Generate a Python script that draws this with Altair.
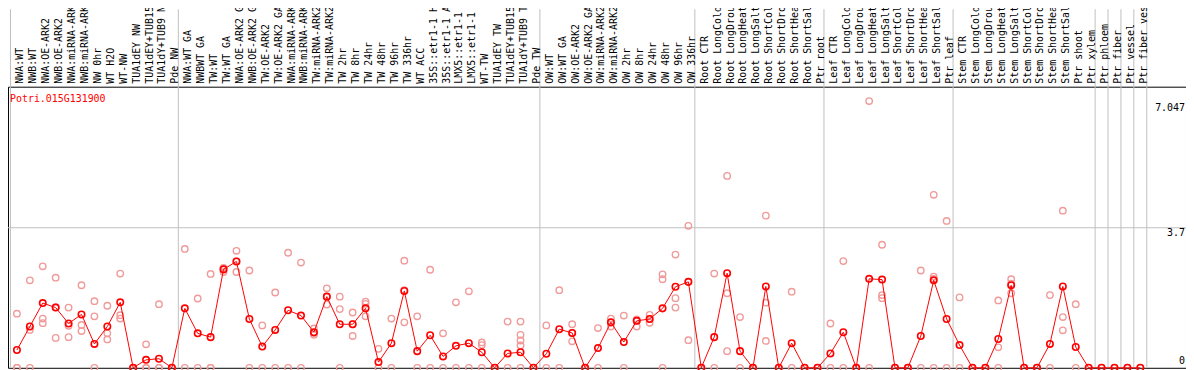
import altair as alt
import pandas as pd

gene = "Potri.015G131900"

categories = [
    "NWA:WT", "NWB:WT", "NWA:OE-ARK2", "NWB:OE-ARK2", "NWA:miRNA-ARK2", "NWB:miRNA-ARK2",
    "NW 0hr", "WT H2O", "WT-NW", "TUA1dEY NW", "TUA1dEY+TUB15", "TUA1dY+TUB9 NW", "Pde NW",
    "NWA:WT GA", "NWBWT GA", "TW:WT", "TW:WT GA", "NWA:OE-ARK2 GA", "NWB:OE-ARK2 GA",
    "TW:OE-ARK2", "TW:OE-ARK2 GA", "NWA:miRNA-ARK2", "NWB:miRNA-ARK2", "TW:miRNA-ARK2",
    "TW:miRNA-ARK2", "TW 2hr", "TW 8hr", "TW 24hr", "TW 48hr", "TW 96hr", "TW 336hr",
    "WT ACC", "35S::etr1-1 H2O", "35S::etr1-1 ACC", "LMX5::etr1-1 H2O", "LMX5::etr1-1 ACC",
    "WT-TW", "TUA1dEY TW", "TUA1dEY+TUB15", "TUA1dY+TUB9 TW", "Pde TW",
    "OW:WT", "OW:WT GA", "OW:OE-ARK2", "OW:OE-ARK2 GA", "OW:miRNA-ARK2", "OW:miRNA-ARK2",
    "OW 2hr", "OW 8hr", "OW 24hr", "OW 48hr", "OW 96hr", "OW 336hr",
    "Root CTR", "Root LongCold", "Root LongDrought", "Root LongHeat", "Root LongSalt",
    "Root ShortCold", "Root ShortDrought", "Root ShortHeat", "Root ShortSalt", "Ptr root",
    "Leaf CTR", "Leaf LongCold", "Leaf LongDrought", "Leaf LongHeat", "Leaf LongSalt",
    "Leaf ShortCold", "Leaf ShortDrought", "Leaf ShortHeat", "Leaf ShortSalt", "Ptr leaf",
    "Stem CTR", "Stem LongCold", "Stem LongDrought", "Stem LongHeat", "Stem LongSalt",
    "Stem ShortCold", "Stem ShortDrought", "Stem ShortHeat", "Stem ShortSalt", "Ptr shoot",
    "Ptr xylem", "Ptr phloem", "Ptr fiber", "Ptr vessel", "Ptr fiber vessel",
]

means = [
    0.47, 1.09, 1.71, 1.59, 1.17, 1.41, 0.63, 1.09, 1.73, 0, 0.21, 0.24, 0,
    1.57, 0.91, 0.81, 2.60, 2.81, 1.29, 0.56, 1.00, 1.52, 1.38, 0.94, 1.88, 1.15, 1.15,
    1.57, 0.15, 0.65, 2.03, 0.44, 0.86, 0.30, 0.58, 0.65, 0.41, 0, 0.38, 0.41, 0,
    0.37, 1.02, 0.92, 0, 0.52, 1.20, 0.68, 1.24, 1.29, 1.57, 2.14, 2.27,
    0, 0.81, 2.50, 0.44, 0, 2.15, 0, 0.65, 0, 0,
    0.38, 0.94, 0, 2.35, 2.33, 0, 0, 0.84, 2.31, 1.29,
    0.60, 0, 0, 0.76, 2.18, 0, 0, 0.63, 2.15, 0.55, 0, 0, 0, 0, 0,
]

replicates = [
    [1.43, 0, 0], [2.31, 1.00, 0], [2.68, 1.30, 1.18], [2.38, 1.60, 0.79],
    [1.59, 1.11, 0.81], [2.18, 1.13, 0.97], [1.76, 1.36, 0], [1.64, 0.91, 0.75],
    [2.49, 1.39, 1.30], [0, 0, 0], [0.62, 0, 0], [1.68, 0, 0], [0, 0],
    [3.14, 0], [1.83, 0], [2.48, 0, 0], [2.64, 2.53, 2.62], [3.09, 2.53, 2.81],
    [2.57, 0], [1.12, 0], [1.99, 0], [3.04, 0], [2.78, 0], [1.04, 0.87, 0.92],
    [2.10, 1.67, 1.88], [1.88, 1.55, 0], [1.46, 0.84, 1.15], [1.75, 1.69, 1.36],
    [0.50, 0], [1.30, 0], [2.83, 1.20, 2.05], [1.36, 0], [2.59, 0], [0.91, 0],
    [1.73, 0], [2.02, 0], [0.67, 0.60, 0], [0, 0], [1.22, 0],
    [1.22, 0.87, 0.72, 0.59, 0], [0, 0],
    [1.12, 0], [2.05, 0], [1.15, 0.70, 0.92], [0, 0], [1.05, 0], [1.30, 1.09, 1.20],
    [1.38, 0], [1.28, 1.09, 1.24], [1.40, 1.19, 1.29], [2.47, 2.34, 0],
    [2.99, 1.84, 1.59], [3.75, 0.73, 2.27],
    [0, 0], [2.49, 0], [5.07, 1.97, 0.44], [1.34, 0], [0, 0], [4.02, 1.72, 0.71],
    [0, 0], [2.01, 0], [0, 0], [0, 0],
    [1.17, 0], [2.82, 0], [0, 0], [7.047, 0], [3.25, 1.92, 1.84], [0, 0], [0, 0],
    [2.57, 0], [4.57, 2.41, 2.35, 0], [3.88, 0],
    [1.86, 0], [0, 0], [0, 0], [1.78, 0.54, 0], [2.34, 1.97, 2.22], [0, 0], [0, 0],
    [1.92, 0], [4.15, 1.34, 0.99], [1.68, 0], [0], [0], [0], [0], [0],
]

group_bounds = [0, 13, 41, 53, 63, 73, 84, 85, 86, 87, 88]
y_ticks = [0, 3.7, 7.047]

# ---- layout ----
W, H = 1186, 283
COL = 13.0
x_scale = alt.Scale(domain=[-2.5 / COL, (W - 2.5) / COL], nice=False, zero=False)
y_scale = alt.Scale(domain=[0, H / 38.108], nice=False, zero=False)
FONT = "DejaVu Sans Mono"

mean_df = pd.DataFrame({
    "x": [i + 0.5 for i in range(len(categories))],
    "mean": means,
    "label": categories,
})
rep_rows = []
for i, reps in enumerate(replicates):
    for v in reps:
        rep_rows.append({"x": i + 0.5, "value": v})
rep_df = pd.DataFrame(rep_rows)
bounds_df = pd.DataFrame({"b": group_bounds})
tick_df = pd.DataFrame({"v": y_ticks, "t": [f"{v:g}" for v in y_ticks]})

vgrid = alt.Chart(bounds_df).mark_rule(color="#c0c0c0", strokeWidth=1).encode(
    x=alt.X("b:Q", scale=x_scale, axis=None),
    y=alt.value(-78),
    y2=alt.value(H),
)
hgrid = alt.Chart(tick_df).transform_filter("datum.v > 0 && datum.v < 7").mark_rule(
    color="#c0c0c0", strokeWidth=1
).encode(
    y=alt.Y("v:Q", scale=y_scale, axis=None),
    x=alt.value(0),
    x2=alt.value(W),
)
reps_layer = alt.Chart(rep_df).mark_point(
    shape="circle", filled=False, color="#f09a9a", size=42, strokeWidth=1.4, opacity=1
).encode(
    x=alt.X("x:Q", scale=x_scale, axis=None),
    y=alt.Y("value:Q", scale=y_scale, axis=None),
)
line_layer = alt.Chart(mean_df).mark_line(color="#ff0000", strokeWidth=1).encode(
    x=alt.X("x:Q", scale=x_scale, axis=None),
    y=alt.Y("mean:Q", scale=y_scale, axis=None),
)
mean_pts = alt.Chart(mean_df).mark_point(
    shape="circle", filled=False, color="#ff0000", size=42, strokeWidth=1.6, opacity=1
).encode(
    x=alt.X("x:Q", scale=x_scale, axis=None),
    y=alt.Y("mean:Q", scale=y_scale, axis=None),
)
labels = alt.Chart(mean_df).mark_text(
    angle=270, align="left", baseline="middle", font=FONT, fontSize=10, color="black", dy=3.5
).encode(
    x=alt.X("x:Q", scale=x_scale, axis=None),
    y=alt.value(-3),
    text="label:N",
)

tick_layers = []
for cond, dy in [("datum.v > 7", 10.5), ("datum.v > 0 && datum.v < 7", 8), ("datum.v == 0", -4)]:
    tick_layers.append(
        alt.Chart(tick_df).transform_filter(cond).mark_text(
            align="right", baseline="alphabetic", font=FONT, fontSize=10, color="black", dy=dy
        ).encode(
            y=alt.Y("v:Q", scale=y_scale, axis=None),
            x=alt.value(W - 1),
            text="t:N",
        )
    )

gene_text = alt.Chart(pd.DataFrame({"g": [gene]})).mark_text(
    align="left", baseline="middle", font=FONT, fontSize=10, color="#ff0000"
).encode(x=alt.value(2), y=alt.value(12), text="g:N")

chart = alt.layer(
    vgrid, hgrid, reps_layer, line_layer, mean_pts, labels, *tick_layers, gene_text
).properties(
    width=W, height=H,
    padding={"left": 0, "top": 78, "right": 0, "bottom": 2},
    autosize=alt.AutoSizeParams(type="none"),
    background="white",
).configure_view(stroke="black", strokeWidth=1)

chart.save("out.html", embed_options={"renderer": "svg", "actions": False})
